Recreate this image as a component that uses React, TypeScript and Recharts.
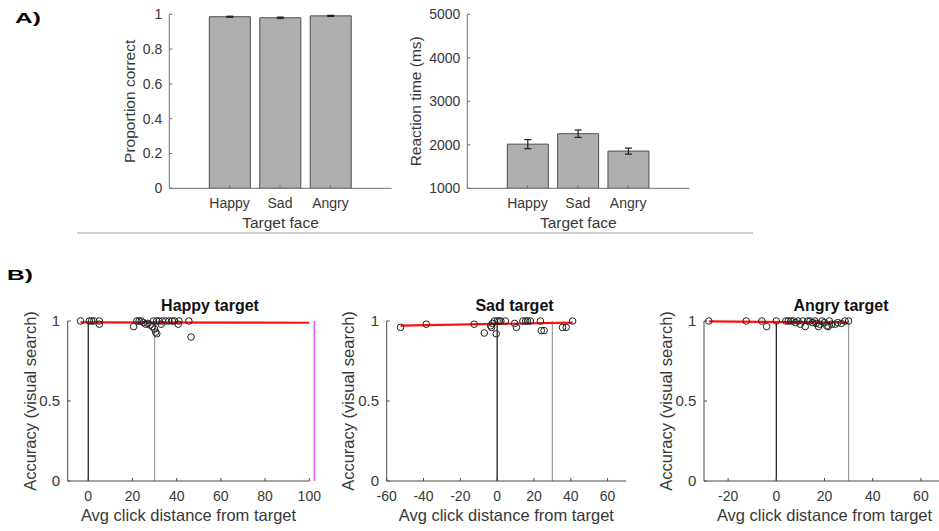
import React from 'react'
import {
  BarChart,
  Bar,
  XAxis,
  YAxis,
  ErrorBar,
  ScatterChart,
  Scatter,
  ReferenceLine,
  Label,
} from 'recharts'

// panel A
const faces = ['Happy', 'Sad', 'Angry']
const propCorrect = [0.986, 0.98, 0.991]
const propErr = [0.003, 0.004, 0.003]
const reactionMs = [2015, 2255, 1855]
const reactionErr = [105, 85, 70]
const propTicks = [0, 0.2, 0.4, 0.6, 0.8, 1]
const rtTicks = [1000, 2000, 3000, 4000, 5000]

// panel B
const happyDist = [-3.5, 0.5, 1.5, 2.5, 5, 5, 20.5, 22, 23, 24, 25, 26, 27, 28, 29, 30, 30.5, 31, 29.5, 31, 32, 33, 33.5, 35, 36.5, 38, 39, 40.7, 41, 45.5, 46.5]
const happyAcc = [1, 1, 1, 1, 1, 0.98, 0.965, 1, 1, 1, 0.99, 0.98, 0.985, 0.975, 0.965, 0.95, 0.93, 0.92, 1, 1, 1, 0.98, 1, 1, 1, 1, 1, 0.98, 1, 1, 0.9]
const sadDist = [-52.5, -38.5, -12.5, -7, -3.5, -3, -2.5, -1.5, -0.5, 0, 1, 2, 4.5, 9.5, 10.5, 14, 15.5, 16.5, 18, 23.5, 24, 25.5, 35.5, 37.5, 41]
const sadAcc = [0.96, 0.98, 0.98, 0.925, 0.97, 0.96, 0.985, 1, 0.92, 1, 1, 1, 1, 0.985, 0.96, 1, 1, 1, 1, 1, 0.94, 0.94, 0.96, 0.96, 1]
const angryDist = [-28, -12.5, -6, -4, 0, 4, 5, 6, 7, 8, 9, 10, 11, 12, 13, 14, 15, 16, 16.5, 17.5, 18, 19, 20, 21, 21.5, 22, 23, 24.5, 25.5, 27, 28.5, 30]
const angryAcc = [1, 1, 1, 0.965, 1, 1, 1, 1, 1, 0.99, 1, 0.98, 1, 0.965, 1, 1, 0.99, 1, 0.985, 0.965, 0.98, 1, 0.99, 0.97, 0.965, 1, 0.98, 0.98, 0.99, 0.985, 1, 1]

const happyFitX = [-3.5, 100]
const happyFitY = [0.991, 0.989]
const sadFitX = [-52.5, 41]
const sadFitY = [0.971, 0.99]
const angryFitX = [-28, 30]
const angryFitY = [0.998, 0.99]

const accTicks = [0, 0.5, 1]
const happyTicks = [0, 20, 40, 60, 80, 100]
const sadTicks = [-60, -40, -20, 0, 20, 40, 60]
const angryTicks = [-20, 0, 20, 40, 60]
const cutoffLine = 102.3

const FONT = '"Liberation Sans", Arial, sans-serif'
const textCol = '#383838'
const axisA = '#6e6e6e'
const axisB = '#4a4a4a'

function zip(xs: number[], ys: number[]) {
  return xs.map((x, i) => ({ x, y: ys[i] }))
}

function BarPanel(props: any) {
  const { left, width, values, errs, domain, ticks, yLabel, marginLeft, marginRight, labelOffset } = props
  const rows = faces.map((face, i) => ({ face, v: values[i], e: errs[i] }))
  return (
    <div style={{ position: 'absolute', left, top: 0 }}>
      <BarChart
        width={width}
        height={235}
        data={rows}
        margin={{ top: 14.3, right: marginRight, bottom: 6.7, left: marginLeft }}
      >
        <XAxis
          dataKey="face"
          height={40}
          padding={{ left: 35, right: 36 }}
          interval={0}
          tickSize={-3}
          tickMargin={13}
          axisLine={{ stroke: axisA }}
          tickLine={{ stroke: axisA }}
          tick={{ fill: textCol, fontSize: 14 }}
        >
          <Label value="Target face" position="insideBottom" offset={0} fill={textCol} fontSize={15.5} />
        </XAxis>
        <XAxis
          xAxisId="top"
          dataKey="face"
          orientation="top"
          height={0}
          padding={{ left: 35, right: 36 }}
          tick={false}
          tickSize={-3}
          axisLine={{ stroke: axisA }}
          tickLine={{ stroke: axisA }}
        />
        <YAxis
          width={60}
          domain={domain}
          ticks={ticks}
          allowDataOverflow
          tickSize={-3}
          tickMargin={10}
          axisLine={{ stroke: axisA }}
          tickLine={{ stroke: axisA }}
          tick={{ fill: textCol, fontSize: 14 }}
        >
          <Label
            value={yLabel}
            angle={-90}
            position="insideLeft"
            offset={labelOffset}
            fill={textCol}
            fontSize={15.5}
            style={{ textAnchor: 'middle' }}
          />
        </YAxis>
        <YAxis
          yAxisId="right"
          orientation="right"
          width={0}
          domain={domain}
          ticks={ticks}
          tick={false}
          tickSize={-3}
          axisLine={{ stroke: axisA }}
          tickLine={{ stroke: axisA }}
        />
        <Bar dataKey="v" barSize={41} fill="#afafaf" stroke="#4e4e4e" strokeWidth={1} isAnimationActive={false}>
          <ErrorBar dataKey="e" width={3.5} stroke="#1e1e1e" strokeWidth={1.2} />
        </Bar>
      </BarChart>
    </div>
  )
}

const ring = (p: any) => (
  <circle cx={p.cx} cy={p.cy} r={3.3} fill="none" stroke="#222" strokeWidth={1} />
)

function ScatterPanel(props: any) {
  const { left, width, marginLeft, marginRight, domain, ticks, pts, fitX, fitY, labelOffset, cutoff } = props
  const fit = zip(fitX, fitY)
  return (
    <div style={{ position: 'absolute', left, top: 290 }}>
      <ScatterChart
        width={width}
        height={241}
        margin={{ top: 31, right: marginRight, bottom: 10, left: marginLeft }}
      >
        <XAxis
          type="number"
          dataKey="x"
          domain={domain}
          ticks={ticks}
          allowDataOverflow
          interval={0}
          height={40}
          tickSize={-3}
          tickMargin={12.7}
          axisLine={{ stroke: axisB }}
          tickLine={{ stroke: axisB }}
          tick={{ fill: textCol, fontSize: 14 }}
        >
          <Label value="Avg click distance from target" position="insideBottom" offset={0} fill={textCol} fontSize={16.5} />
        </XAxis>
        <YAxis
          type="number"
          dataKey="y"
          domain={[0, 1]}
          ticks={accTicks}
          width={50}
          tickSize={-3}
          tickMargin={10.7}
          axisLine={{ stroke: axisB }}
          tickLine={{ stroke: axisB }}
          tick={{ fill: textCol, fontSize: 15 }}
        >
          <Label
            value="Accuracy (visual search)"
            angle={-90}
            position="insideLeft"
            offset={labelOffset}
            fill={textCol}
            fontSize={16.5}
            style={{ textAnchor: 'middle' }}
          />
        </YAxis>
        <ReferenceLine x={0} stroke="#111" strokeWidth={1.2} />
        <ReferenceLine x={30} stroke="#9a9a9a" strokeWidth={1.2} />
        {cutoff !== undefined && (
          <ReferenceLine x={cutoff} stroke="#f566f5" strokeWidth={1.8} ifOverflow="visible" />
        )}
        <Scatter data={pts} shape={ring} isAnimationActive={false} />
        <ReferenceLine
          segment={[fit[0], fit[1]]}
          stroke="#ff1010"
          strokeWidth={2.2}
          ifOverflow="visible"
        />
      </ScatterChart>
    </div>
  )
}

const titleStyle = (center: number): React.CSSProperties => ({
  position: 'absolute',
  left: center - 100,
  width: 200,
  top: 297.5,
  textAlign: 'center',
  fontWeight: 'bold',
  fontSize: 16,
  lineHeight: '16px',
  color: '#111',
})

const panelTag = (left: number, top: number): React.CSSProperties => ({
  position: 'absolute',
  left,
  top,
  fontWeight: 900,
  fontSize: 14,
  lineHeight: '14px',
  color: '#000',
  transform: 'scaleX(1.75)',
  transformOrigin: 'left top',
})

export default function App() {
  return (
    <div
      style={{
        position: 'fixed',
        left: 0,
        top: 0,
        width: 939,
        height: 531,
        overflow: 'hidden',
        background: '#fff',
        fontFamily: FONT,
      }}
    >
      <div style={panelTag(15, 11)}>A)</div>
      <BarPanel
        left={0}
        width={400}
        marginLeft={109.3}
        marginRight={8.3}
        labelOffset={20}
        values={propCorrect}
        errs={propErr}
        domain={[0, 1]}
        ticks={propTicks}
        yLabel="Proportion correct"
      />
      <BarPanel
        left={380}
        width={320}
        marginLeft={27.3}
        marginRight={10.7}
        labelOffset={8}
        values={reactionMs}
        errs={reactionErr}
        domain={[1000, 5000]}
        ticks={rtTicks}
        yLabel="Reaction time (ms)"
      />
      <div style={{ position: 'absolute', left: 77, top: 232, width: 676, height: 1.5, background: '#cfcfcf' }} />

      <div style={panelTag(7, 268)}>B)</div>
      <div style={titleStyle(210)}>Happy target</div>
      <div style={titleStyle(514.5)}>Sad target</div>
      <div style={titleStyle(841)}>Angry target</div>
      <ScatterPanel
        left={0}
        width={330}
        marginLeft={17.7}
        marginRight={20.7}
        labelOffset={12.3}
        domain={[-9.3, 100]}
        ticks={happyTicks}
        pts={zip(happyDist, happyAcc)}
        fitX={happyFitX}
        fitY={happyFitY}
        cutoff={cutoffLine}
      />
      <ScatterPanel
        left={320}
        width={320}
        marginLeft={16.7}
        marginRight={14}
        labelOffset={11.3}
        domain={[-60, 70]}
        ticks={sadTicks}
        pts={zip(sadDist, sadAcc)}
        fitX={sadFitX}
        fitY={sadFitY}
      />
      <ScatterPanel
        left={630}
        width={330}
        marginLeft={24}
        marginRight={15}
        labelOffset={12}
        domain={[-30, 70]}
        ticks={angryTicks}
        pts={zip(angryDist, angryAcc)}
        fitX={angryFitX}
        fitY={angryFitY}
      />
    </div>
  )
}
